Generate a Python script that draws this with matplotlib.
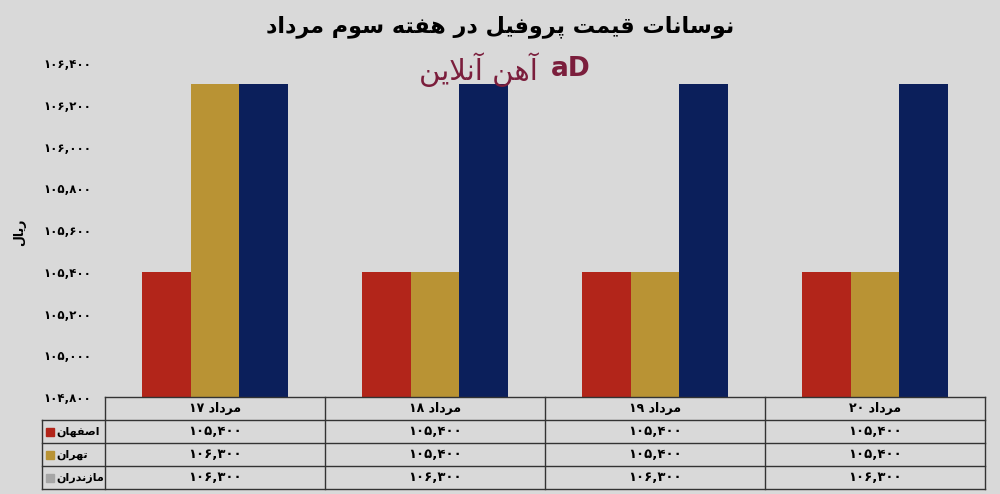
import matplotlib
matplotlib.use("Agg")
import matplotlib.pyplot as plt
import numpy as np
from matplotlib.patches import Rectangle
from matplotlib.lines import Line2D

title = "نوسانات قیمت پروفیل در هفته سوم مرداد"
ylabel = "ریال"
watermark = "آهن آنلاین"
dates = ["مرداد ۱۷", "مرداد ۱۸", "مرداد ۱۹", "مرداد ۲۰"]
cities = ["اصفهان", "تهران", "مازندران"]
isfahan = [105400, 105400, 105400, 105400]
tehran = [106300, 105400, 105400, 105400]
mazandaran = [106300, 106300, 106300, 106300]
yticks = [104800, 105000, 105200, 105400, 105600, 105800, 106000, 106200, 106400]

bar_colors = ["#b2251a", "#b99334", "#0b1f5b"]
legend_colors = ["#b2251a", "#b99334", "#a6a6a6"]
bg = "#d9d9d9"

# minimal arabic/persian shaping (matplotlib has no complex text layout)
# forms: isolated, final, initial, medial
FORMS = {
    "ا": ("\uFE8D", "\uFE8E", None, None),
    "آ": ("\uFE81", "\uFE82", None, None),
    "ب": ("\uFE8F", "\uFE90", "\uFE91", "\uFE92"),
    "پ": ("\uFB56", "\uFB57", "\uFB58", "\uFB59"),
    "ت": ("\uFE95", "\uFE96", "\uFE97", "\uFE98"),
    "د": ("\uFEA9", "\uFEAA", None, None),
    "ر": ("\uFEAD", "\uFEAE", None, None),
    "ز": ("\uFEAF", "\uFEB0", None, None),
    "س": ("\uFEB1", "\uFEB2", "\uFEB3", "\uFEB4"),
    "ص": ("\uFEB9", "\uFEBA", "\uFEBB", "\uFEBC"),
    "ف": ("\uFED1", "\uFED2", "\uFED3", "\uFED4"),
    "ق": ("\uFED5", "\uFED6", "\uFED7", "\uFED8"),
    "ل": ("\uFEDD", "\uFEDE", "\uFEDF", "\uFEE0"),
    "م": ("\uFEE1", "\uFEE2", "\uFEE3", "\uFEE4"),
    "ن": ("\uFEE5", "\uFEE6", "\uFEE7", "\uFEE8"),
    "ه": ("\uFEE9", "\uFEEA", "\uFEEB", "\uFEEC"),
    "و": ("\uFEED", "\uFEEE", None, None),
    "ی": ("\uFBFC", "\uFBFD", "\uFBFE", "\uFBFF"),
}
LAMALEF = {"ا": ("\uFEFB", "\uFEFC"), "آ": ("\uFEF5", "\uFEF6")}


def joins_forward(c):
    return c in FORMS and FORMS[c][2] is not None


def shape(word):
    out = []
    i = 0
    n = len(word)
    while i < n:
        c = word[i]
        if c not in FORMS:
            out.append(c)
            i += 1
            continue
        prev = word[i - 1] if i > 0 else None
        jp = prev is not None and joins_forward(prev)
        if c == "ل" and i + 1 < n and word[i + 1] in LAMALEF:
            out.append(LAMALEF[word[i + 1]][1 if jp else 0])
            i += 2
            continue
        nxt = word[i + 1] if i + 1 < n else None
        jn = joins_forward(c) and nxt in FORMS
        f = FORMS[c]
        if jp and jn:
            out.append(f[3])
        elif jp:
            out.append(f[1])
        elif jn:
            out.append(f[2])
        else:
            out.append(f[0])
        i += 1
    return "".join(out)


def fa(text):
    words = []
    for w in text.split(" "):
        if any(ch in FORMS for ch in w):
            w = shape(w)[::-1]
        words.append(w)
    return " ".join(words[::-1])


def fa_num(v):
    return f"{v:,}".translate(str.maketrans("0123456789", "۰۱۲۳۴۵۶۷۸۹"))


plt.rcParams["font.family"] = ["DejaVu Sans"]
plt.rcParams["font.weight"] = "bold"

fig = plt.figure(figsize=(10, 4.94), dpi=100, facecolor=bg)


def fx(x):
    return x / 1000


def fy(y):
    return 1 - y / 494


ax = fig.add_axes([fx(105), fy(397), fx(880), 334 / 494])
ax.set_facecolor(bg)

x = np.arange(len(dates))
w = 0.22
series = [isfahan, tehran, mazandaran]
for k, vals in enumerate(series):
    ax.bar(x + (k - 1) * w, vals, width=w, color=bar_colors[k], zorder=2)

ax.set_xlim(-0.5, len(dates) - 0.5)
ax.set_ylim(yticks[0], yticks[-1])
ax.set_yticks(yticks)
ax.set_yticklabels([fa_num(v) for v in yticks], fontsize=8.5, fontweight="bold")
ax.set_xticks([])
ax.tick_params(axis="y", length=0, pad=10)
for s in ax.spines.values():
    s.set_visible(False)

fig.text(fx(20), fy(232), fa(ylabel), rotation=90, ha="center", va="center",
         fontsize=9, fontweight="bold")

fig.text(0.5, fy(27), fa(title), ha="center", va="center", fontsize=16,
         fontweight="bold")

fig.text(fx(478), fy(70), fa(watermark), ha="center", va="center",
         fontsize=21, fontweight="normal", color="#7b1e3c")
fig.text(fx(571), fy(69), "aD", ha="center", va="center",
         fontsize=19, fontweight="bold", color="#7b1e3c")

# data table under the axes
lc = "#333333"
col_edges = [105, 325, 545, 765, 985]
row_edges = [397, 420, 443, 466, 489]


def hline(y, x0, x1):
    fig.add_artist(Line2D([fx(x0), fx(x1)], [fy(y), fy(y)], color=lc, lw=1))


def vline(xp, y0, y1):
    fig.add_artist(Line2D([fx(xp), fx(xp)], [fy(y0), fy(y1)], color=lc, lw=1))


hline(row_edges[0], col_edges[0], col_edges[-1])
for y in row_edges[1:]:
    hline(y, 42, col_edges[-1])
for xp in col_edges:
    vline(xp, row_edges[0], row_edges[-1])
vline(42, row_edges[1], row_edges[-1])

for j, d in enumerate(dates):
    cx = (col_edges[j] + col_edges[j + 1]) / 2
    cy = (row_edges[0] + row_edges[1]) / 2
    fig.text(fx(cx), fy(cy), fa(d), ha="center", va="center", fontsize=9,
             fontweight="bold")

for i, (name, vals) in enumerate(zip(cities, series)):
    cy = (row_edges[i + 1] + row_edges[i + 2]) / 2
    fig.add_artist(Rectangle((fx(46), fy(cy + 4)), fx(8), 8 / 494,
                             color=legend_colors[i], transform=fig.transFigure))
    fig.text(fx(56), fy(cy), fa(name), ha="left", va="center", fontsize=8,
             fontweight="bold")
    for j, v in enumerate(vals):
        cx = (col_edges[j] + col_edges[j + 1]) / 2
        fig.text(fx(cx), fy(cy), fa_num(v), ha="center", va="center",
                 fontsize=9.5, fontweight="bold")

fig.savefig("out.png", dpi=100, facecolor=bg)
